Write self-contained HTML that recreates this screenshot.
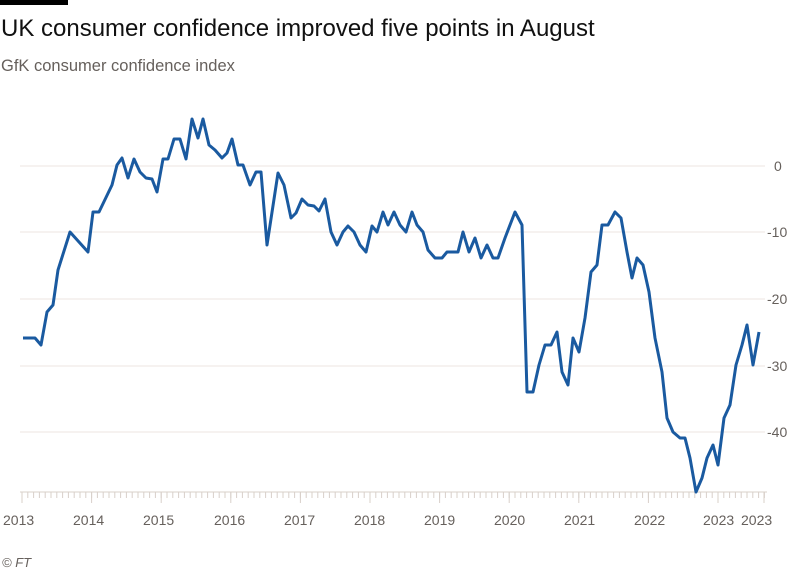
<!DOCTYPE html>
<html><head><meta charset="utf-8"><style>
body{margin:0;width:800px;height:572px;background:#fff;font-family:"Liberation Sans",sans-serif;overflow:hidden;position:relative}
.bar{position:absolute;left:0;top:0;width:68px;height:5px;background:#000}
.t{position:absolute;left:1px;top:15px;font-size:24px;color:#111}
.s{position:absolute;left:1px;top:57px;font-size:16.5px;color:#66605c}
</style></head><body>
<div class="bar"></div>
<div class="t">UK consumer confidence improved five points in August</div>
<div class="s">GfK consumer confidence index</div>
<svg width="800" height="572" style="position:absolute;left:0;top:0" font-family="Liberation Sans, sans-serif">
<g stroke="#ece6e1" stroke-width="1">
<line x1="20" y1="166" x2="765" y2="166"/><line x1="20" y1="232" x2="765" y2="232"/><line x1="20" y1="299" x2="765" y2="299"/><line x1="20" y1="366" x2="765" y2="366"/><line x1="20" y1="432" x2="765" y2="432"/>
</g>
<g fill="#66605c" font-size="14">
<text x="774" y="171">0</text><text x="767" y="237">-10</text><text x="767" y="304">-20</text><text x="767" y="371">-30</text><text x="767" y="437">-40</text>
</g>
<line x1="20" y1="492" x2="767" y2="492" stroke="#d8d0ca"/>
<line x1="21.5" y1="495" x2="768" y2="495" stroke="#d8d0ca" stroke-width="6" stroke-dasharray="1 4.8"/>
<g stroke="#d8d0ca">
<line x1="22" y1="492" x2="22" y2="503"/><line x1="91.6" y1="492" x2="91.6" y2="503"/><line x1="161.2" y1="492" x2="161.2" y2="503"/><line x1="230.8" y1="492" x2="230.8" y2="503"/><line x1="300.4" y1="492" x2="300.4" y2="503"/><line x1="370" y1="492" x2="370" y2="503"/><line x1="439.6" y1="492" x2="439.6" y2="503"/><line x1="509.2" y1="492" x2="509.2" y2="503"/><line x1="578.8" y1="492" x2="578.8" y2="503"/><line x1="648.4" y1="492" x2="648.4" y2="503"/><line x1="718" y1="492" x2="718" y2="503"/><line x1="764" y1="492" x2="764" y2="503"/>
</g>
<polyline fill="none" stroke="#1a5aa0" stroke-width="3" stroke-linejoin="round" points="23,338 35,338 41,345 47,312 53,305 58,270 70,232 88,252 93,212 99,212 112,185 117,165 122,158 128,178 134,159 140,172 146,178 152,179 157,192 163,159 168,159 174,139 180,139 186,159 192,119 198,138 203,119 209,145 215,150 222,158 227,153 232,139 238,165 243,165 250,185 256,172 261,172 267,245 278,173 284,185 291,218 296,213 302,199 308,205 314,206 319,211 325,199 331,232 337,245 343,232 348,226 354,232 360,245 366,252 372,226 377,232 383,212 388,225 394,212 400,225 406,232 412,212 417,225 423,232 428,250 435,258 442,258 447,252 458,252 463,232 469,252 475,238 481,258 487,245 493,258 498,258 505,238 515,212 522,225 527,392 533,392 539,365 545,345 551,345 557,332 562,372 568,385 573,338 579,352 585,318 591,272 597,265 602,225 608,225 615,212 621,218 627,252 632,278 637,258 643,265 649,292 655,338 662,372 667,418 673,432 680,438 685,438 690,458 696,492 702,478 707,458 713,445 718,465 724,418 730,405 736,365 742,345 747,325 753,365 759,332"/>
<g fill="#66605c" font-size="14">
<text x="3" y="525">2013</text><text x="73" y="525">2014</text><text x="143" y="525">2015</text><text x="214" y="525">2016</text><text x="284" y="525">2017</text><text x="354" y="525">2018</text><text x="424" y="525">2019</text><text x="494" y="525">2020</text><text x="564" y="525">2021</text><text x="634" y="525">2022</text><text x="703" y="525">2023</text><text x="741" y="525">2023</text>
</g>
<text x="2" y="567" fill="#66605c" font-size="13" font-style="italic">© FT</text>
</svg>
</body></html>
